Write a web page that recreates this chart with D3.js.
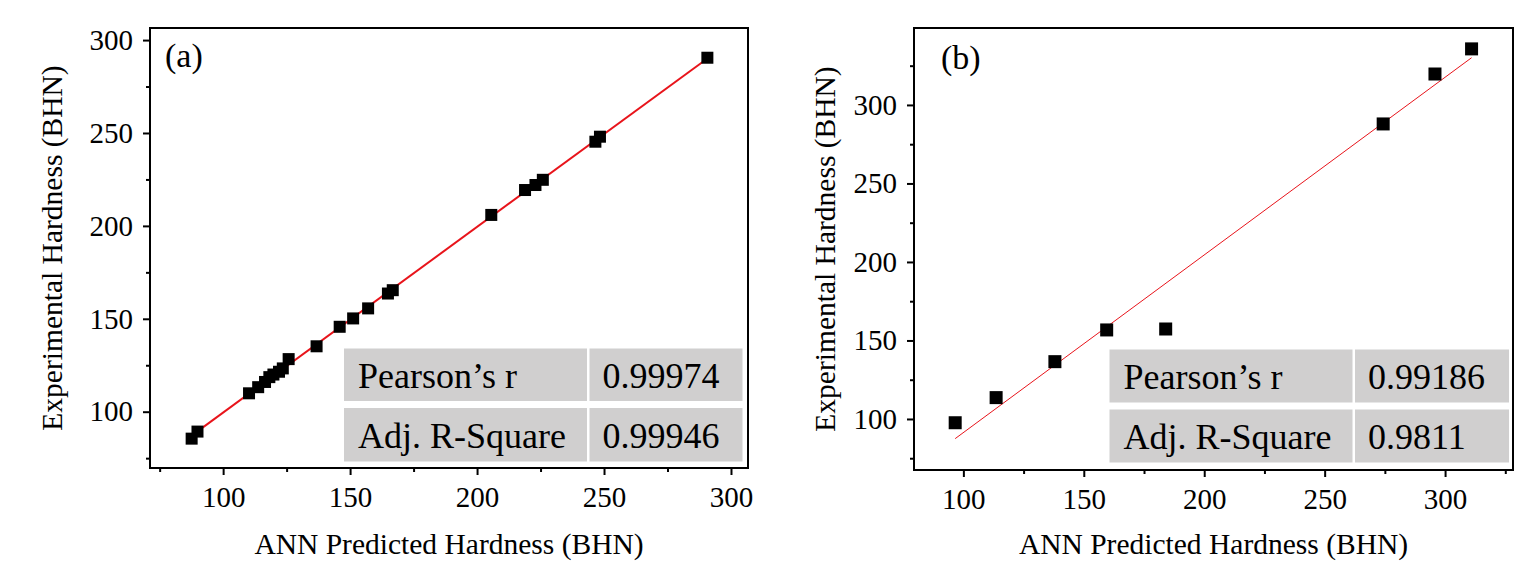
<!DOCTYPE html>
<html>
<head>
<meta charset="utf-8">
<script src="https://cdn.jsdelivr.net/npm/d3@7"></script>
<style>
  html, body { margin: 0; padding: 0; background: #fff; }
  svg { display: block; }
  text { font-family: "Liberation Serif", "Times New Roman", serif; fill: #000; }
</style>
</head>
<body>
<svg id="chart" width="1539" height="581"></svg>
<script>
// ---- Data ----
const aPredicted = [87.6, 89.9, 110.2, 113.8, 116.5, 118.2, 119.8, 122.0, 123.5, 125.8, 136.8, 145.9, 151.2, 157.1, 164.9, 166.8, 205.6, 218.9, 223.0, 225.9, 246.6, 248.4, 290.7];
const aExperimental = [85.5, 89.3, 109.9, 113.2, 116.0, 118.6, 120.0, 121.5, 123.3, 128.3, 135.2, 145.7, 150.2, 155.6, 163.6, 165.4, 205.9, 219.3, 222.0, 224.8, 245.3, 248.0, 290.5];

const bPredicted = [96.6, 113.6, 138.0, 159.5, 184.0, 274.3, 295.8, 311.0];
const bExperimental = [97.6, 113.6, 136.5, 156.7, 157.3, 287.9, 319.7, 335.7];

const aXTicks = [100, 150, 200, 250, 300];
const aYTicks = [100, 150, 200, 250, 300];
const aXMinor = [75, 125, 175, 225, 275];
const aYMinor = [75, 125, 175, 225, 275];

const bXTicks = [100, 150, 200, 250, 300];
const bYTicks = [100, 150, 200, 250, 300];
const bXMinor = [125, 175, 225, 275, 325];
const bYMinor = [75, 125, 175, 225, 275, 325];

const statLabels = ["Pearson\u2019s r", "Adj. R-Square"];
const aStatValues = ["0.99974", "0.99946"];
const bStatValues = ["0.99186", "0.9811"];

const panelLabels = ["(a)", "(b)"];
const xTitle = "ANN Predicted Hardness (BHN)";
const yTitle = "Experimental Hardness (BHN)";

// ---- Layout ----
const svg = d3.select("#chart");

const panels = [
  {
    label: panelLabels[0], xs: aPredicted, ys: aExperimental,
    xDomain: [71.2, 306.7], yDomain: [69.7, 306.5],
    box: {l: 150, t: 28, r: 748, b: 468},
    xTicks: aXTicks, yTicks: aYTicks, xMinor: aXMinor, yMinor: aYMinor,
    stats: aStatValues, lineWidth: 2, marker: 12,
    table: {x0: 344, x1: 587, x2: 589.5, x3: 742.5, y0: 348.5, y1: 401, y2: 408, y3: 461.5},
    labelPos: [165, 67], yTitleX: 52
  },
  {
    label: panelLabels[1], xs: bPredicted, ys: bExperimental,
    xDomain: [79.5, 328.2], yDomain: [67.5, 349.0],
    box: {l: 914, t: 28, r: 1513, b: 470},
    xTicks: bXTicks, yTicks: bYTicks, xMinor: bXMinor, yMinor: bYMinor,
    stats: bStatValues, lineWidth: 1, marker: 13,
    table: {x0: 1109.5, x1: 1352.5, x2: 1355, x3: 1509, y0: 349.5, y1: 402.5, y2: 409.5, y3: 462.5},
    labelPos: [941, 69], yTitleX: 825
  }
];

function linreg(xs, ys) {
  const mx = d3.mean(xs), my = d3.mean(ys);
  let sxy = 0, sxx = 0;
  xs.forEach((x, i) => { sxy += (x - mx) * (ys[i] - my); sxx += (x - mx) * (x - mx); });
  const m = sxy / sxx;
  return {m, c: my - m * mx};
}

panels.forEach(p => {
  const B = p.box;
  const x = d3.scaleLinear().domain(p.xDomain).range([B.l, B.r]);
  const y = d3.scaleLinear().domain(p.yDomain).range([B.b, B.t]);
  const g = svg.append("g");

  // table (behind points)
  const T = p.table;
  const rows = [[T.y0, T.y1], [T.y2, T.y3]];
  rows.forEach((r, i) => {
    g.append("rect").attr("x", T.x0).attr("y", r[0]).attr("width", T.x1 - T.x0).attr("height", r[1] - r[0]).attr("fill", "#d0cfcf");
    g.append("rect").attr("x", T.x2).attr("y", r[0]).attr("width", T.x3 - T.x2).attr("height", r[1] - r[0]).attr("fill", "#d0cfcf");
    const cy = (r[0] + r[1]) / 2 + 13;
    g.append("text").attr("x", T.x0 + 14).attr("y", cy).attr("font-size", 36).text(statLabels[i]);
    g.append("text").attr("x", T.x2 + 13).attr("y", cy).attr("font-size", 36).text(p.stats[i]);
  });

  // fit line
  const fit = linreg(p.xs, p.ys);
  const x0 = d3.min(p.xs), x1 = d3.max(p.xs);
  g.append("line")
    .attr("x1", x(x0)).attr("y1", y(fit.m * x0 + fit.c))
    .attr("x2", x(x1)).attr("y2", y(fit.m * x1 + fit.c))
    .attr("stroke", "#e8141b").attr("stroke-width", p.lineWidth);

  // points
  const s = p.marker;
  g.selectAll("rect.pt").data(p.xs.map((v, i) => [v, p.ys[i]])).enter()
    .append("rect").attr("class", "pt")
    .attr("x", d => x(d[0]) - s / 2).attr("y", d => y(d[1]) - s / 2)
    .attr("width", s).attr("height", s).attr("fill", "#000");

  // axes
  const xAxis = g.append("g").attr("transform", `translate(0,${B.b})`)
    .call(d3.axisBottom(x).tickValues(p.xTicks).tickSize(7).tickPadding(11).tickSizeOuter(0));
  const xMinor = g.append("g").attr("transform", `translate(0,${B.b})`)
    .call(d3.axisBottom(x).tickValues(p.xMinor).tickSize(4).tickFormat("").tickSizeOuter(0));
  const yAxis = g.append("g").attr("transform", `translate(${B.l},0)`)
    .call(d3.axisLeft(y).tickValues(p.yTicks).tickSize(7).tickPadding(10).tickSizeOuter(0));
  const yMinor = g.append("g").attr("transform", `translate(${B.l},0)`)
    .call(d3.axisLeft(y).tickValues(p.yMinor).tickSize(4).tickFormat("").tickSizeOuter(0));
  [xAxis, xMinor, yAxis, yMinor].forEach(a => {
    a.select(".domain").remove();
    a.selectAll("line").attr("stroke", "#000").attr("stroke-width", 2);
    a.selectAll("text").attr("font-size", 29).attr("fill", "#000");
  });

  // frame
  g.append("rect").attr("x", B.l).attr("y", B.t).attr("width", B.r - B.l).attr("height", B.b - B.t)
    .attr("fill", "none").attr("stroke", "#000").attr("stroke-width", 2);

  // panel label
  g.append("text").attr("x", p.labelPos[0]).attr("y", p.labelPos[1]).attr("font-size", 34).text(p.label);

  // titles
  g.append("text").attr("x", (B.l + B.r) / 2).attr("y", 554).attr("text-anchor", "middle").attr("font-size", 29.5).text(xTitle);
  g.append("text").attr("transform", `translate(${p.yTitleX},${(B.t + B.b) / 2}) rotate(-90)`)
    .attr("text-anchor", "middle").attr("dy", "0.35em").attr("font-size", 29.5).text(yTitle);
});
</script>
</body>
</html>
